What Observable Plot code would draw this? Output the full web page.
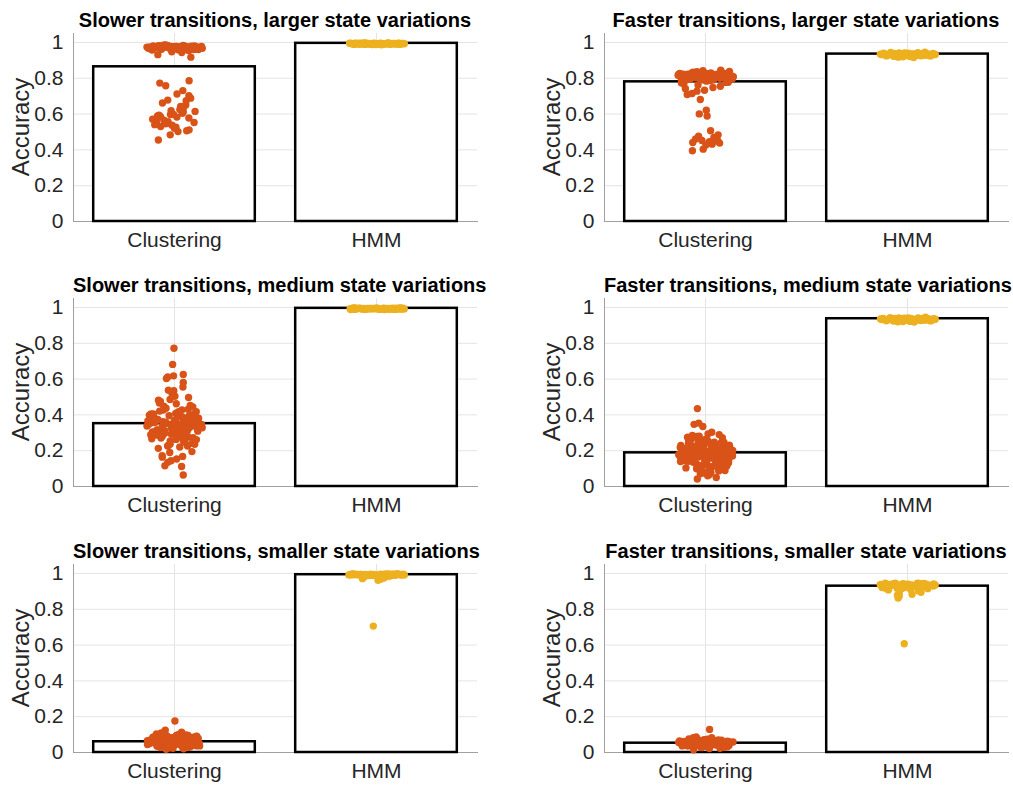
<!DOCTYPE html>
<html>
<head>
<meta charset="utf-8">
<script src="https://cdn.jsdelivr.net/npm/d3@7"></script>
<script src="https://cdn.jsdelivr.net/npm/@observablehq/plot@0.6"></script>
<style>
  body { margin: 0; background: #fff; font-family: "Liberation Sans", Arial, Helvetica, sans-serif; }
  #chart { position: relative; width: 1013px; height: 785px; overflow: hidden; }
  .panel { position: absolute; width: 505px; height: 262px; }
  .panel svg { position: absolute; left: 0; top: 0; }
  .title { position: absolute; left: 73px; width: 404px; top: 10px; text-align: center;
           font-weight: bold; font-size: 20px; line-height: 1; white-space: nowrap; color: #000; }
  .ylabel { position: absolute; left: 21px; top: 127px; font-size: 24px; line-height: 1;
            color: #262626; white-space: nowrap; transform: translate(-50%, -50%) rotate(-90deg); }
</style>
</head>
<body>
<div id="chart"></div>
<script>
// Categories, axis ticks and panel titles
const categories = ["Clustering", "HMM"];
const yTicks = [0, 0.2, 0.4, 0.6, 0.8, 1];
const panelTitles = [
  "Slower transitions, larger state variations",
  "Faster transitions, larger state variations",
  "Slower transitions, medium state variations",
  "Faster transitions, medium state variations",
  "Slower transitions, smaller state variations",
  "Faster transitions, smaller state variations"
];

// Mean accuracy per panel (bar heights)
const clusteringMeans = [0.864, 0.780, 0.351, 0.188, 0.060, 0.052];
const hmmMeans = [0.995, 0.935, 0.995, 0.937, 0.993, 0.929];

// Per-run accuracies, slower transitions / larger state variations
const slowLargeClustering = [
  0.972,0.968,0.981,0.975,0.963,0.977,0.985,0.970,0.959,0.974,
  0.979,0.966,0.971,0.983,0.962,0.976,0.969,0.980,0.957,0.973,
  0.978,0.965,0.982,0.970,0.948,0.975,0.967,0.984,0.961,0.977,
  0.971,0.964,0.979,0.974,0.944,0.980,0.968,0.976,0.958,0.973,
  0.986,0.969,0.975,0.932,0.918,0.977,0.966,0.981,0.972,0.963,
  0.978,0.970,0.955,0.983,0.967,0.974,0.979,0.960,0.976,0.971,
  0.612,0.548,0.786,0.583,0.531,0.674,0.597,0.455,0.643,0.566,
  0.702,0.521,0.589,0.731,0.557,0.615,0.502,0.662,0.578,0.538,
  0.773,0.604,0.546,0.689,0.527,0.593,0.651,0.484,0.571,0.625,
  0.758,0.512,0.598,0.563,0.638,0.678,0.553,0.712,0.586,0.507,
  0.619,0.541
];
const slowLargeHMM = [
  0.993,0.996,0.991,0.995,0.989,0.997,0.992,0.994,0.990,0.996,
  0.993,0.988,0.995,0.991,0.997,0.994,0.992,0.996,0.990,0.993,
  0.995,0.987,0.994,0.992,0.996,0.991,0.993,0.997,0.989,0.995,
  0.992,0.994,0.990,0.996,0.993,0.991,0.995,0.988,0.994,0.997,
  0.992,0.993,0.996,0.990,0.994,0.991,0.995,0.993,0.989,0.996,
  0.992,0.994,0.991,0.995,0.993
];

// Faster transitions / larger state variations
const fastLargeClustering = [
  0.812,0.824,0.803,0.831,0.795,0.818,0.807,0.838,0.799,0.822,
  0.815,0.791,0.827,0.809,0.834,0.801,0.819,0.786,0.826,0.811,
  0.797,0.829,0.816,0.805,0.842,0.793,0.821,0.813,0.778,0.825,
  0.808,0.832,0.799,0.817,0.804,0.828,0.814,0.789,0.823,0.810,
  0.836,0.802,0.820,0.796,0.830,0.812,0.775,0.818,0.806,0.827,
  0.784,0.815,0.800,0.833,0.809,0.821,0.794,0.826,0.811,0.768,
  0.819,0.803,0.829,0.797,0.816,0.845,0.807,0.822,0.792,0.814,
  0.777,0.824,0.801,0.818,0.763,0.812,0.787,0.806,0.820,0.798,
  0.742,0.507,0.728,0.484,0.622,0.715,0.469,0.452,0.709,0.445,
  0.601,0.458,0.733,0.441,0.432,0.681,0.438,0.589,0.461,0.755,
  0.404,0.395,0.748,0.476,0.449,0.427
];
const fastLargeHMM = [
  0.934,0.928,0.939,0.931,0.925,0.937,0.942,0.930,0.921,0.936,
  0.933,0.927,0.940,0.932,0.918,0.935,0.929,0.944,0.931,0.926,
  0.938,0.934,0.923,0.930,0.941,0.936,0.928,0.933,0.946,0.925,
  0.932,0.937,0.920,0.935,0.929,0.939,0.931,0.927,0.934,0.943,
  0.930,0.924,0.936,0.933,0.928,0.938,0.932,0.916,0.935,0.929,
  0.940,0.931,0.926,0.937,0.933
];

// Slower transitions / medium state variations
const slowMediumClustering = [
  0.332,0.287,0.401,0.772,0.356,0.248,0.312,0.378,0.295,0.421,
  0.341,0.682,0.267,0.389,0.318,0.452,0.302,0.164,0.364,0.231,
  0.347,0.409,0.284,0.626,0.326,0.371,0.258,0.437,0.309,0.352,
  0.116,0.276,0.395,0.338,0.221,0.612,0.383,0.297,0.466,0.324,
  0.359,0.262,0.413,0.315,0.581,0.345,0.289,0.428,0.336,0.241,
  0.372,0.305,0.112,0.486,0.328,0.392,0.271,0.349,0.618,0.213,
  0.361,0.298,0.444,0.321,0.376,0.556,0.255,0.405,0.334,0.281,
  0.064,0.367,0.475,0.311,0.353,0.236,0.418,0.603,0.343,0.292,
  0.386,0.319,0.538,0.497,0.263,0.357,0.329,0.144,0.398,0.278,
  0.448,0.339,0.535,0.304,0.369,0.226,0.381,0.154,0.316,0.431,
  0.519,0.346,0.365,0.135,0.354,0.504,0.172,0.168,0.190,0.195,
  0.342,0.298,0.377,0.315,0.405,0.268,0.351,0.329,0.462,0.287,
  0.394,0.238,0.366,0.309,0.427,0.273,0.338,0.384,0.252,0.355,
  0.418,0.301,0.373,0.226,0.347,0.482,0.293,0.362,0.321,0.408
];
const slowMediumHMM = [
  0.994,0.991,0.996,0.993,0.989,0.995,0.992,0.997,0.990,0.994,
  0.996,0.992,0.993,0.988,0.995,0.991,0.997,0.994,0.990,0.993,
  0.996,0.992,0.995,0.989,0.994,0.997,0.991,0.993,0.996,0.990,
  0.995,0.992,0.994,0.988,0.996,0.993,0.991,0.995,0.997,0.992,
  0.994,0.990,0.993,0.996,0.991,0.995,0.992,0.994,0.989,0.996,
  0.993,0.991,0.995,0.994,0.992
];

// Faster transitions / medium state variations
const fastMediumClustering = [
  0.182,0.214,0.153,0.236,0.435,0.127,0.198,0.168,0.251,0.141,
  0.205,0.176,0.347,0.112,0.223,0.159,0.264,0.189,0.134,0.211,
  0.171,0.097,0.354,0.243,0.186,0.148,0.228,0.163,0.272,0.119,
  0.195,0.157,0.335,0.218,0.081,0.179,0.239,0.145,0.206,0.167,
  0.258,0.131,0.294,0.193,0.174,0.226,0.104,0.187,0.152,0.247,
  0.138,0.285,0.201,0.165,0.089,0.232,0.184,0.121,0.216,0.161,
  0.303,0.268,0.143,0.197,0.172,0.109,0.238,0.178,0.079,0.135,
  0.209,0.155,0.255,0.191,0.071,0.221,0.166,0.042,0.114,0.244,
  0.183,0.149,0.203,0.129,0.262,0.185,0.175,0.096,0.229,0.158,
  0.192,0.050,0.124,0.213,0.169,0.281,0.137,0.060,0.199,0.162,
  0.086,0.275,0.235,0.280,0.290,
  0.176,0.142,0.205,0.118,0.231,0.163,0.192,0.087,0.214,0.151,
  0.247,0.128,0.184,0.169,0.262,0.106,0.198,0.139,0.223,0.158,
  0.181,0.074,0.209,0.146,0.238,0.115,0.173,0.194,0.132,0.256,
  0.161,0.187,0.099,0.219,0.154,0.241,0.122,0.178,0.201,0.067
];
const fastMediumHMM = [
  0.933,0.929,0.938,0.931,0.926,0.936,0.941,0.930,0.922,0.935,
  0.934,0.928,0.939,0.932,0.920,0.936,0.930,0.943,0.931,0.927,
  0.937,0.933,0.924,0.931,0.940,0.935,0.929,0.934,0.945,0.926,
  0.932,0.938,0.921,0.936,0.930,0.938,0.932,0.928,0.933,0.942,
  0.931,0.925,0.937,0.934,0.929,0.939,0.933,0.919,0.936,0.930,
  0.941,0.932,0.927,0.936,0.934
];

// Slower transitions / smaller state variations
const slowSmallClustering = [
  0.062,0.048,0.081,0.035,0.071,0.055,0.094,0.042,0.067,0.028,
  0.078,0.052,0.103,0.039,0.064,0.086,0.046,0.073,0.021,0.058,
  0.091,0.044,0.069,0.033,0.083,0.051,0.107,0.061,0.038,0.076,
  0.054,0.098,0.026,0.066,0.049,0.088,0.041,0.072,0.057,0.113,
  0.035,0.079,0.063,0.045,0.095,0.053,0.068,0.031,0.084,0.059,
  0.176,0.125,0.047,0.074,0.037,0.101,0.056,0.065,0.024,0.087,
  0.043,0.071,0.052,0.096,0.034,0.061,0.082,0.048,0.069,0.018,
  0.077,0.055,0.109,0.041,0.063,0.089,0.046,0.072,0.029,0.058,
  0.085,0.039,0.066,0.051,0.093,0.036,0.075,0.057,0.044,0.080
];
const slowSmallHMM = [
  0.994,0.991,0.996,0.988,0.993,0.997,0.990,0.995,0.982,0.992,
  0.996,0.989,0.994,0.975,0.993,0.997,0.991,0.995,0.986,0.992,
  0.996,0.968,0.994,0.990,0.993,0.997,0.984,0.995,0.991,0.962,
  0.994,0.989,0.996,0.992,0.978,0.993,0.997,0.990,0.995,0.987,
  0.706,0.992,0.996,0.971,0.994,0.991,0.993,0.997,0.983,0.995,
  0.990,0.994,0.996,0.988,0.992,0.980,0.995,0.993,0.991,0.997
];

// Faster transitions / smaller state variations
const fastSmallClustering = [
  0.048,0.061,0.035,0.072,0.053,0.041,0.066,0.029,0.057,0.082,
  0.044,0.063,0.037,0.069,0.051,0.024,0.058,0.076,0.046,0.064,
  0.032,0.055,0.087,0.042,0.067,0.050,0.129,0.038,0.060,0.074,
  0.047,0.056,0.027,0.065,0.043,0.079,0.052,0.034,0.062,0.049,
  0.071,0.039,0.058,0.045,0.068,0.031,0.054,0.083,0.041,0.063,
  0.052,0.036,0.070,0.047,0.059,0.022,0.066,0.044,0.061,0.015,
  0.053,0.075,0.040,0.057,0.048,0.064,0.033,0.056,0.078,0.045
];
const fastSmallHMM = [
  0.932,0.941,0.925,0.937,0.918,0.944,0.929,0.935,0.911,0.939,
  0.927,0.943,0.921,0.934,0.946,0.915,0.938,0.929,0.903,0.936,
  0.942,0.924,0.933,0.895,0.940,0.928,0.945,0.917,0.935,0.931,
  0.863,0.939,0.922,0.937,0.884,0.943,0.926,0.934,0.908,0.941,
  0.607,0.930,0.936,0.879,0.944,0.920,0.938,0.927,0.891,0.933,
  0.940,0.925,0.942,0.913,0.936,0.929,0.872,0.938,0.923,0.946
];

const clusteringRuns = [slowLargeClustering, fastLargeClustering, slowMediumClustering,
                        fastMediumClustering, slowSmallClustering, fastSmallClustering];
const hmmRuns = [slowLargeHMM, fastLargeHMM, slowMediumHMM, fastMediumHMM, slowSmallHMM, fastSmallHMM];

const colors = {Clustering: "#D95319", HMM: "#EDB120"};

// Swarm-style horizontal spread: deterministic offsets whose width follows
// the kernel density of the values (denser values spread wider).
function swarm(values, center, halfWidth) {
  const n = values.length;
  const sd = d3.deviation(values) || 0.01;
  const h = Math.max(1.06 * sd * Math.pow(n, -0.2), 0.008);
  const dens = values.map(v => d3.sum(values, w => Math.exp(-0.5 * ((v - w) / h) ** 2)));
  const maxD = d3.max(dens);
  return values.map((v, i) => {
    const u = ((i + 1) * 0.6180339887498949) % 1 - 0.5;
    const spread = 0.25 + 0.75 * Math.sqrt(dens[i] / maxD);
    return {x: center + 2 * u * halfWidth * spread, y: v};
  });
}

function panel(k) {
  const bars = categories.map((c, i) => ({
    category: c, pos: i + 1, value: [clusteringMeans[k], hmmMeans[k]][i]
  }));
  const clusterDots = swarm(clusteringRuns[k], 1, 0.14);
  const hmmDots = swarm(hmmRuns[k], 2, 0.14);
  return Plot.plot({
    width: 505,
    height: 262,
    marginLeft: 73,
    marginRight: 28,
    marginTop: 33,
    marginBottom: 41,
    style: {fontFamily: "'Liberation Sans', Arial, Helvetica, sans-serif", fontSize: "21px",
            color: "#262626", background: "transparent", overflow: "visible"},
    x: {domain: [0.5, 2.5]},
    y: {domain: [0, 1.05]},
    marks: [
      Plot.gridY(yTicks, {stroke: "#e4e4e4", strokeOpacity: 1}),
      Plot.gridX([1, 2], {stroke: "#e4e4e4", strokeOpacity: 1}),
      Plot.frame({anchor: "left", stroke: "#a0a0a0"}),
      Plot.frame({anchor: "bottom", stroke: "#a0a0a0"}),
      Plot.rectY(bars, {x1: d => d.pos - 0.4, x2: d => d.pos + 0.4, y: "value",
                        fill: "white", stroke: "black", strokeWidth: 2.5}),
      Plot.dot(clusterDots, {x: "x", y: "y", r: 3.7, fill: colors.Clustering, stroke: null}),
      Plot.dot(hmmDots, {x: "x", y: "y", r: 3.7, fill: colors.HMM, stroke: null}),
      Plot.axisX({ticks: [1, 2], tickFormat: i => categories[i - 1], tickSize: 0,
                  tickPadding: 11, label: null}),
      Plot.axisY({ticks: yTicks, tickFormat: d => String(d), tickSize: 0,
                  tickPadding: 10, label: null})
    ]
  });
}

const chart = document.getElementById("chart");
const rowTops = [0, 265, 531];
const colLefts = [0, 531];
panelTitles.forEach((t, k) => {
  const div = document.createElement("div");
  div.className = "panel";
  div.style.left = colLefts[k % 2] + "px";
  div.style.top = rowTops[Math.floor(k / 2)] + "px";
  div.appendChild(panel(k));
  const title = document.createElement("div");
  title.className = "title";
  title.textContent = t;
  div.appendChild(title);
  const yl = document.createElement("div");
  yl.className = "ylabel";
  yl.textContent = "Accuracy";
  div.appendChild(yl);
  chart.appendChild(div);
});
</script>
</body>
</html>
